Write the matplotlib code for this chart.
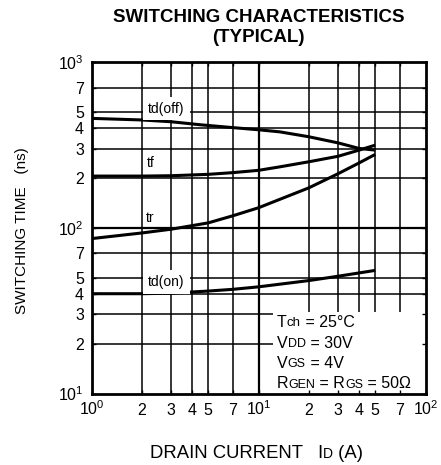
import matplotlib
matplotlib.use("Agg")
import matplotlib.pyplot as plt
from matplotlib.ticker import FixedLocator, FixedFormatter, NullLocator
from matplotlib.patches import Rectangle

plt.rcParams['font.family'] = ['Liberation Sans', 'DejaVu Sans']
plt.rcParams['mathtext.fontset'] = 'custom'
plt.rcParams['mathtext.rm'] = 'Liberation Sans'

# ---------------- data ----------------
x_ticks = [1, 2, 3, 4, 5, 7, 10, 20, 30, 40, 50, 70, 100]
x_tick_labels = [r'$\mathregular{10^{0}}$', '2', '3', '4', '5', '7', r'$\mathregular{10^{1}}$',
                 '2', '3', '4', '5', '7', r'$\mathregular{10^{2}}$']
y_ticks = [10, 20, 30, 40, 50, 70, 100, 200, 300, 400, 500, 700, 1000]
y_tick_labels = [r'$\mathregular{10^{1}}$', '2', '3', '4', '5', '7', r'$\mathregular{10^{2}}$',
                 '2', '3', '4', '5', '7', r'$\mathregular{10^{3}}$']
decades = [10, 100]

td_off_x = [1, 2, 3, 4.5, 7, 10, 13.4, 20, 30, 40, 50]
td_off_y = [457, 447, 436, 418, 402, 390, 379, 354, 325, 301, 294]

tf_x = [1, 2, 3, 5, 7, 10, 13.4, 20, 30, 40, 50]
tf_y = [205, 205, 206, 210, 215, 222, 233, 250, 270, 294, 315]

tr_x = [1, 2, 3, 5, 7, 10, 20, 30, 40, 50]
tr_y = [86, 93, 98, 107, 118, 132, 174, 212, 246, 277]

td_on_x = [1, 2, 3, 5, 7, 10, 20, 30, 50]
td_on_y = [40, 40, 40.3, 41.5, 42.5, 44, 48, 51, 55.3]

curve_labels = ['td(off)', 'tf', 'tr', 'td(on)']
label_pos = [(2.81, 524), (2.26, 245), (2.26, 114), (2.81, 47.2)]
label_boxed = [True, False, False, True]

cond_lines = [
    [('T', 11.5), ('ch', 9.5), (' = 25\u00b0C', 11.5)],
    [('V', 11.5), ('DD', 9), (' = 30V', 11.5)],
    [('V', 11.5), ('GS', 9), (' = 4V', 11.5)],
    [('R', 11.5), ('GEN', 9), (' = R', 11.5), ('GS', 9), (' = 50\u03a9', 11.5)],
]
# ---------------------------------------

W, H = 441, 465
fig = plt.figure(figsize=(W / 100, H / 100), dpi=100)
L, R, B, T = 91.5, 425.5, 393.5, 62.0
ax = fig.add_axes([L / W, (H - B) / H, (R - L) / W, (B - T) / H])
ax.set_xscale('log')
ax.set_yscale('log')
ax.set_xlim(1, 100)
ax.set_ylim(10, 1000)

# grid drawn from tick lists
for xv in x_ticks[1:-1]:
    ax.axvline(xv, color='black', lw=1.6 if xv in decades else 1.1, zorder=1)
for yv in y_ticks[1:-1]:
    ax.axhline(yv, color='black', lw=1.6 if yv in decades else 1.1, zorder=1)

# curves
for xs, ys in [(td_off_x, td_off_y), (tf_x, tf_y), (tr_x, tr_y), (td_on_x, td_on_y)]:
    ax.plot(xs, ys, color='black', lw=2.2, zorder=2, solid_capstyle='butt')

for txt, (lx, ly), boxed in zip(curve_labels, label_pos, label_boxed):
    kw = {}
    if boxed:
        kw['bbox'] = dict(boxstyle='square,pad=0.35', fc='white', ec='none')
    ax.text(lx, ly, txt, fontsize=10, ha='center', va='center', zorder=4, **kw)

# white area behind the conditions block
ax.add_patch(Rectangle((0.5434, 0.0), 0.4566, 0.2447, transform=ax.transAxes,
                       facecolor='white', edgecolor='none', zorder=1.5))

def rich(x, y, parts, transform, zorder=4):
    first = ax.text(x, y, parts[0][0], fontsize=parts[0][1], transform=transform,
                    ha='left', va='baseline', zorder=zorder)
    fs0 = parts[0][1]
    prev = first
    for s, fs in parts[1:]:
        prev = ax.annotate(s, xy=(1, 0), xycoords=(prev, first),
                           xytext=(0, 0.21 * (fs0 - fs)), textcoords='offset points',
                           fontsize=fs, ha='left', va='bottom', zorder=zorder,
                           annotation_clip=False)
    return first

baselines = [(B - 327) / (B - T), (B - 347.5) / (B - T), (B - 368) / (B - T), (B - 388.3) / (B - T)]
for parts, yb in zip(cond_lines, baselines):
    rich((277 - L) / (R - L), yb, parts, ax.transAxes)

# ticks
ax.xaxis.set_major_locator(FixedLocator(x_ticks))
ax.xaxis.set_major_formatter(FixedFormatter(x_tick_labels))
ax.xaxis.set_minor_locator(NullLocator())
ax.yaxis.set_major_locator(FixedLocator(y_ticks))
ax.yaxis.set_major_formatter(FixedFormatter(y_tick_labels))
ax.yaxis.set_minor_locator(NullLocator())
ax.tick_params(axis='both', which='both', direction='in', length=3, width=1,
               top=True, right=True, labelsize=11.5, color='black')
ax.tick_params(axis='x', pad=15.3)
ax.tick_params(axis='y', pad=5.5)
plt.setp(ax.get_xticklabels(), va='baseline')
for sp in ax.spines.values():
    sp.set_linewidth(2.0)
    sp.set_zorder(3)

# titles / axis labels
fig.text(258.5 / W, 1 - 21.7 / H, 'SWITCHING CHARACTERISTICS', fontsize=13.5,
         fontweight='bold', ha='center', va='baseline')
fig.text(258.5 / W, 1 - 41.5 / H, '(TYPICAL)', fontsize=13.5,
         fontweight='bold', ha='center', va='baseline')
fig.text(22 / W, 1 - 231 / H, 'SWITCHING TIME   (ns)', fontsize=11,
         rotation=90, ha='center', va='center')

xl_parts = [('DRAIN CURRENT   I', 13.3), ('D', 10), (' (A)', 13.3)]
rich((150 - L) / (R - L), -(458 - B) / (B - T), xl_parts, ax.transAxes)

fig.savefig('out.png', dpi=100)
